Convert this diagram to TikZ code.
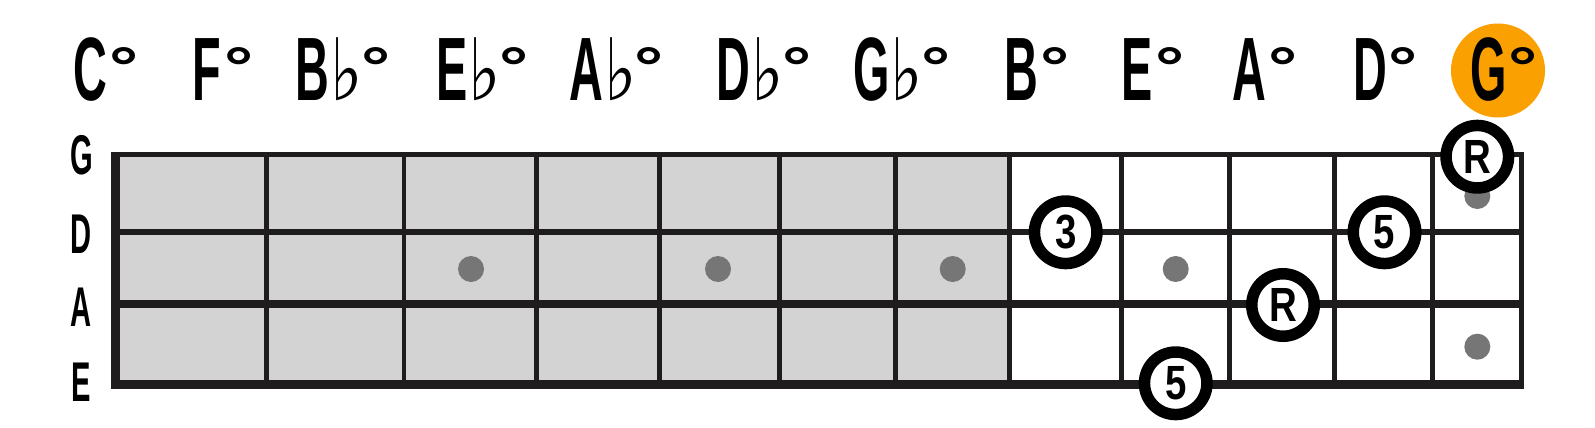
\documentclass[tikz,border=0pt]{standalone}
\usepackage{fontspec}
\usepackage{graphicx}
\newfontfamily\headfont{Liberation Sans}[FakeStretch=0.52]
\newfontfamily\circfont{Liberation Sans}[FakeStretch=0.8]
\newfontfamily\degfont{Liberation Sans}
\newfontfamily\flatfont{DejaVu Sans}[FakeStretch=0.8]
\newcommand\mydeg{\raisebox{7pt}{\degfont\bfseries\fontsize{28}{28}\selectfont\scalebox{1.3}[1]{°}}}
\newcommand\myflat{{\flatfont\fontsize{43}{43}\selectfont ♭}}
\newcommand\hl[1]{{\headfont\bfseries\fontsize{45}{45}\selectfont #1}}
\definecolor{cellgrey}{RGB}{211,211,211}
\definecolor{lineblack}{RGB}{30,28,29}
\definecolor{dotgrey}{RGB}{118,118,118}
\definecolor{gold}{RGB}{250,160,0}
\tikzset{
  chordlab/.style={anchor=base, inner sep=0pt, outer sep=0pt},
  strlab/.style={inner sep=0pt, font=\headfont\bfseries\fontsize{28}{28}\selectfont},
  fretdot/.style={circle, fill=dotgrey, minimum size=13pt, inner sep=0pt},
  notecirc/.style={circle, draw=black, fill=white, line width=5.75pt, minimum size=31.25pt, inner sep=0pt, font=\circfont\bfseries\fontsize{24}{24}\selectfont},
  fretline/.style={draw=lineblack, line width=2.35pt},
}
\begin{document}
\begin{tikzpicture}[x=0.5pt,y=-0.5pt]
\useasboundingbox (0,0) rectangle (1595,428);
% grey part of the neck
\fill[cellgrey] (115.5,154.5) rectangle (1009.7,384.7);
% frets
\foreach \fx in {266.3,404,536.3,659.7,779.3,895.7,1009.7,1121.7,1229.7,1334.7,1432.7}
  \draw[fretline] (\fx,154.5) -- (\fx,384.7);
% strings
\draw[lineblack, line width=2.25pt] (111,154.5) -- (1524.3,154.5);
\draw[lineblack, line width=3pt]    (111,231.7) -- (1524.3,231.7);
\draw[lineblack, line width=3.85pt] (111,304) -- (1524.3,304);
\draw[lineblack, line width=4.65pt] (111,384.7) -- (1524.3,384.7);
% nut and end
\fill[lineblack] (111,152.3) rectangle (120,389.3);
\fill[lineblack] (1519,152.3) rectangle (1524.3,389.3);
% inlay dots
\node[fretdot] (d1) at (471,269) {};
\node[fretdot] (d2) at (718,269) {};
\node[fretdot] (d3) at (952.7,269) {};
\node[fretdot] (d4) at (1175.7,269) {};
\node[fretdot] (d5) at (1477.3,196) {};
\node[fretdot] (d6) at (1477.3,346.7) {};
% notes
\node[notecirc] (n1) at (1065.7,232.3) {3};
\node[notecirc] (n2) at (1175.7,383.3) {5};
\node[notecirc] (n3) at (1283,305) {R};
\node[notecirc] (n4) at (1384.5,232.3) {5};
\node[notecirc] (n5) at (1477.3,156.7) {R};
% string names
\node[strlab] (sG) at (81.5,155) {G};
\node[strlab] (sD) at (81.5,234) {D};
\node[strlab] (sA) at (81.5,307) {A};
\node[strlab] (sE) at (81.5,382.5) {E};
% highlight
\node[circle, fill=gold, minimum size=47pt, inner sep=0pt] (hlc) at (1498,70.5) {};
% chord names
\node[chordlab] (c1) at (106,100) {\hl{C}\kern1pt\mydeg};
\node[chordlab] (c2) at (223,100) {\hl{F}\kern2pt\mydeg};
\node[chordlab] (c3) at (343,100) {\hl{B}\kern0.5pt\myflat\kern-1pt\mydeg};
\node[chordlab] (c4) at (482.5,100) {\hl{E}\kern0.5pt\myflat\kern-1pt\mydeg};
\node[chordlab] (c5) at (616.5,100) {\hl{A}\kern0.5pt\myflat\kern-1pt\mydeg};
\node[chordlab] (c6) at (764,100) {\hl{D}\kern0.5pt\myflat\kern-1pt\mydeg};
\node[chordlab] (c7) at (902,100) {\hl{G}\kern0.5pt\myflat\kern-1pt\mydeg};
\node[chordlab] (c8) at (1037,100) {\hl{B}\kern1pt\mydeg};
\node[chordlab] (c9) at (1153,100) {\hl{E}\kern1pt\mydeg};
\node[chordlab] (c10) at (1265,100) {\hl{A}\kern1pt\mydeg};
\node[chordlab] (c11) at (1385.5,100) {\hl{D}\kern1pt\mydeg};
\node[chordlab] (c12) at (1504,100) {\hl{G}\kern1pt\mydeg};
\end{tikzpicture}
\end{document}
